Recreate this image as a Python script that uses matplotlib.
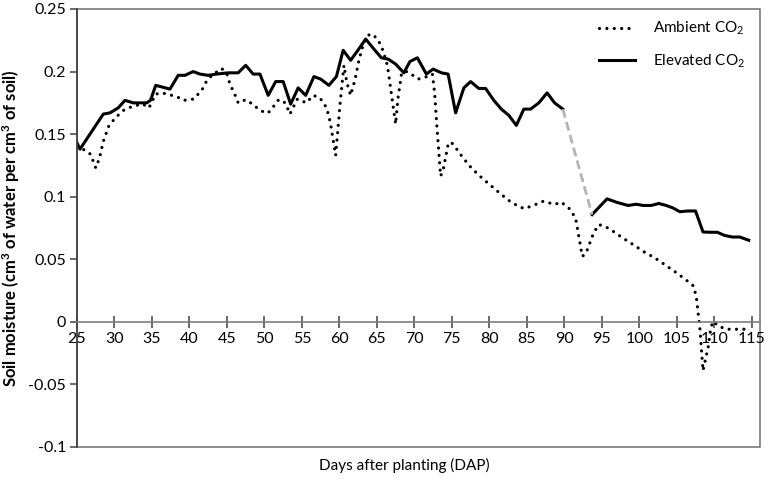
import numpy as np
import matplotlib
matplotlib.use("Agg")
import matplotlib.pyplot as plt
from matplotlib.patches import Rectangle

plt.rcParams['font.family'] = ['Lato', 'DejaVu Sans']
plt.rcParams['mathtext.fontset'] = 'custom'
plt.rcParams['mathtext.rm'] = 'Lato'
plt.rcParams['mathtext.it'] = 'Lato:italic'
plt.rcParams['mathtext.bf'] = 'Lato:bold'

# elevated CO2 (day, soil moisture)
elev_day = [25.0, 25.4, 28.5, 29.4, 30.5, 31.4, 32.5, 34.3, 34.8, 35.5, 37.4, 38.5,
            39.4, 40.5, 41.4, 42.5, 43.6, 45.2, 46.5, 47.5, 48.5, 49.4, 50.5, 51.5,
            52.5, 53.5, 54.5, 55.5, 56.6, 57.5, 58.6, 59.6, 60.5, 61.5, 62.7, 63.5,
            64.6, 65.6, 66.5, 67.5, 68.6, 69.4, 70.4, 71.6, 72.5, 73.6, 74.5, 75.5,
            76.6, 77.5, 78.6, 79.5, 80.6, 81.6, 82.6, 83.6, 84.6, 85.5, 86.6, 87.7,
            88.7, 89.8]
elev_val = [0.143, 0.138, 0.166, 0.167, 0.171, 0.177, 0.175, 0.175, 0.177, 0.189, 0.186, 0.197,
            0.197, 0.200, 0.198, 0.197, 0.198, 0.199, 0.199, 0.205, 0.198, 0.198, 0.181, 0.192,
            0.192, 0.174, 0.187, 0.181, 0.196, 0.194, 0.189, 0.196, 0.217, 0.209, 0.219, 0.226,
            0.218, 0.211, 0.210, 0.206, 0.199, 0.208, 0.211, 0.198, 0.202, 0.199, 0.198, 0.167,
            0.187, 0.192, 0.1865, 0.1865, 0.177, 0.170, 0.165, 0.157, 0.170, 0.170, 0.175, 0.183,
            0.175, 0.170]

elev_day2 = [93.7, 95.7, 97.0, 98.5, 99.6, 100.5, 101.6, 102.6, 103.6, 104.5, 105.4,
             106.5, 107.5, 108.5, 109.4, 110.4, 111.4, 112.4, 113.4, 114.6]
elev_val2 = [0.0857, 0.0983, 0.0955, 0.093, 0.094, 0.093, 0.093, 0.0946, 0.093, 0.091, 0.088,
             0.0886, 0.0886, 0.0718, 0.0716, 0.0716, 0.069, 0.0678, 0.0678, 0.0652]

# missing readings for elevated CO2 bridged by a grey dashed line
gap_day = [89.8, 93.7]
gap_val = [0.170, 0.0857]

# ambient CO2
amb_day = [25.0, 25.8, 26.8, 27.5, 28.0, 28.5, 29.2, 30.1, 31.2, 32.5, 33.8, 34.6, 35.5,
           36.3, 38.3, 39.2, 40.5, 41.6, 42.3, 43.0, 44.3, 45.0, 45.4, 46.1, 46.5, 47.2,
           47.8, 48.5, 49.3, 50.1, 50.7, 51.2, 51.8, 52.5, 53.0, 53.4, 53.8, 54.4, 55.6,
           56.5, 57.4, 58.3, 58.8, 59.5, 59.8, 60.1, 60.6, 61.0, 61.5, 62.1, 62.6, 63.2,
           63.8, 64.4, 65.2, 65.8, 66.4, 66.8, 67.5, 67.8, 68.3, 69.0, 69.8, 70.5, 71.6,
           72.4, 72.7, 73.0, 73.5, 73.85, 74.2, 74.5, 74.9, 75.4, 76.5, 77.6, 79.0, 80.3,
           81.6, 83.0, 84.6, 85.6, 87.2, 88.7, 89.6, 90.7, 91.5, 92.4, 92.9, 93.9, 94.6,
           95.4, 96.5, 97.8, 99.2, 100.5, 102.1, 103.4, 104.7, 106.1, 107.2, 107.6, 108.1,
           108.5, 109.2, 109.5, 109.8, 110.7, 111.6, 113.0, 114.5]
amb_val = [0.140, 0.138, 0.134, 0.123, 0.131, 0.144, 0.156, 0.163, 0.169, 0.1725, 0.174, 0.171, 0.182,
           0.183, 0.180, 0.177, 0.178, 0.1846, 0.1926, 0.197, 0.2025, 0.198, 0.190, 0.181, 0.175, 0.177,
           0.177, 0.173, 0.170, 0.1667, 0.168, 0.172, 0.177, 0.177, 0.172, 0.166, 0.171, 0.178, 0.175,
           0.181, 0.179, 0.171, 0.159, 0.133, 0.154, 0.175, 0.205, 0.191, 0.181, 0.194, 0.209, 0.222,
           0.229, 0.230, 0.225, 0.217, 0.205, 0.188, 0.158, 0.178, 0.199, 0.200, 0.197, 0.194, 0.1958,
           0.198, 0.183, 0.1565, 0.1165, 0.1218, 0.1325, 0.1418, 0.1437, 0.140, 0.131, 0.123, 0.115, 0.1084,
           0.1018, 0.0951, 0.0905, 0.0924, 0.0964, 0.0938, 0.0957, 0.0903, 0.083, 0.0523, 0.055, 0.071, 0.0777,
           0.0764, 0.0724, 0.067, 0.0617, 0.0564, 0.051, 0.0457, 0.0403, 0.0342, 0.0288, 0.0203, -0.0064,
           -0.039, -0.0198, -0.0064, 0.0003, -0.0037, -0.0059, -0.0059, -0.0059]

x_ticks = [25, 30, 35, 40, 45, 50, 55, 60, 65, 70, 75, 80, 85, 90, 95, 100, 105, 110, 115]
y_ticks = [-0.1, -0.05, 0, 0.05, 0.1, 0.15, 0.2, 0.25]
y_labels = ['-0.1', '-0.05', '0', '0.05', '0.1', '0.15', '0.2', '0.25']

fig = plt.figure(figsize=(7.71, 4.88), dpi=100)
ax = fig.add_axes([77/771, 1-447/488, 683/771, 438/488])

ax.plot(amb_day, amb_val, color='black', lw=2.3, linestyle=(0, (0.01, 2.3)),
        dash_capstyle='round', label='Ambient CO$_2$')
ax.plot(elev_day, elev_val, color='black', lw=2.2, label='Elevated CO$_2$')
ax.plot(elev_day2, elev_val2, color='black', lw=2.2)
ax.plot(gap_day, gap_val, color='#b4b4b4', lw=2.0, linestyle=(0, (3.2, 1.6)))

ax.set_xlim(25, 116.1)
ax.set_ylim(-0.1, 0.25)

for s in ['top', 'right']:
    ax.spines[s].set_visible(False)
ax.spines['bottom'].set_position(('data', 0))
ax.spines['bottom'].set_color('#7f7f7f')
ax.spines['bottom'].set_linewidth(1.2)
ax.spines['left'].set_color('#404040')
ax.spines['left'].set_linewidth(1.2)
ax.add_patch(Rectangle((0, 0), 1, 1, transform=ax.transAxes, fill=False,
                       edgecolor='#6f6f6f', lw=1.1, clip_on=False))

ax.set_xticks(x_ticks)
ax.set_xticklabels([str(t) for t in x_ticks])
ax.set_yticks(y_ticks)
ax.set_yticklabels(y_labels)
ax.tick_params(axis='x', direction='inout', length=9, width=1.1, color='#404040',
               labelsize=11.5, pad=3)
ax.tick_params(axis='y', direction='out', length=5, width=1.1, color='#404040',
               labelsize=11.5, pad=3)

ax.set_ylabel(r'Soil moisture (cm$^\mathbf{3}$ of water per cm$^\mathbf{3}$ of soil)',
              fontsize=12, fontweight='bold')
ax.yaxis.set_label_coords(-0.08, 0.5)
ax.set_xlabel('Days after planting (DAP)', fontsize=11)
ax.xaxis.set_label_coords(0.479, -0.025)

ax.legend(loc='upper left', bbox_to_anchor=(0.765, 0.975), frameon=False,
          fontsize=11, handlelength=2.3, handletextpad=1.2, labelspacing=1.0,
          borderpad=0, borderaxespad=0)

fig.savefig('out.png', dpi=100)
